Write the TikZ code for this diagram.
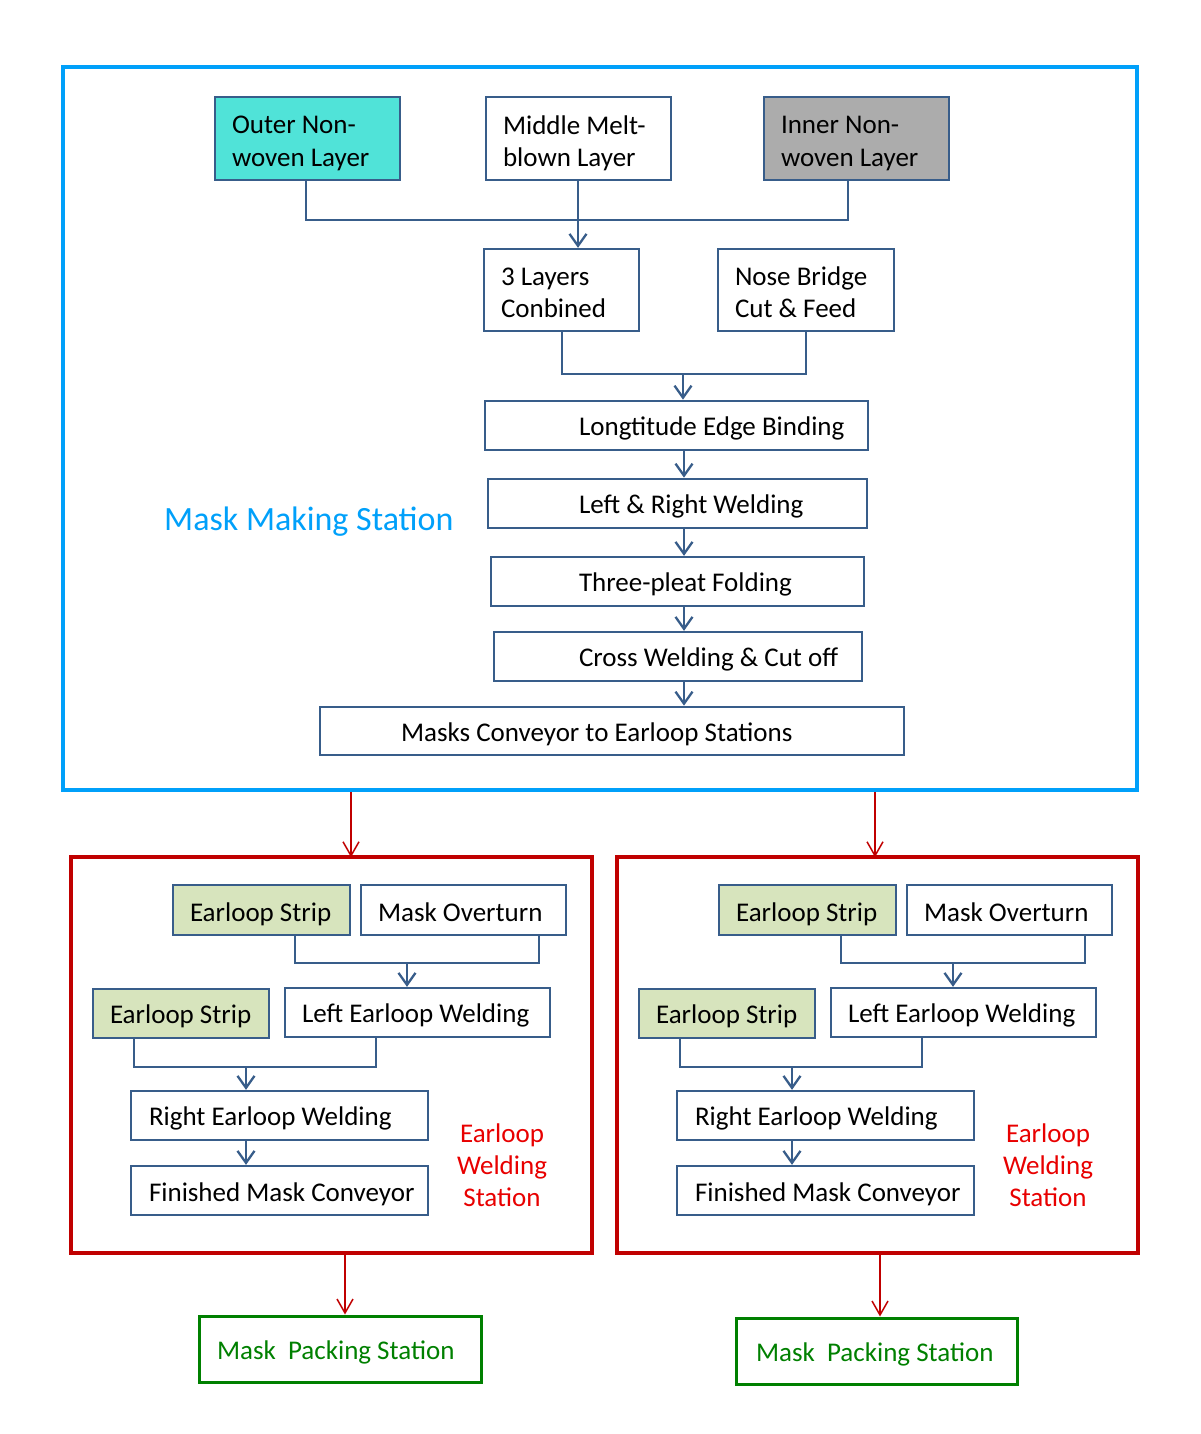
\documentclass[tikz,border=0pt]{standalone}
\usepackage{fontspec}
\setmainfont{Carlito}
\usetikzlibrary{arrows.meta}
\definecolor{boxblue}{RGB}{56,93,138}
\definecolor{frameblue}{RGB}{0,160,250}
\definecolor{framered}{RGB}{192,0,0}
\definecolor{labred}{RGB}{232,0,0}
\definecolor{packgreen}{RGB}{0,128,0}
\definecolor{turq}{RGB}{80,227,216}
\definecolor{grayfill}{RGB}{172,172,172}
\definecolor{stripgreen}{RGB}{215,228,189}
\newcommand\bt[4][6]{\parbox{#2pt}{\vspace*{#1pt}\raggedright\leftskip=#3pt\relax #4}}
\tikzset{
  stepbox/.style={draw=boxblue, line width=2.3pt, inner sep=0pt, fill=white,
    font=\fontsize{27}{32.5}\selectfont, text=black},
  arr/.style={draw=boxblue, line width=2.3pt, -{Straight Barb[length=12pt,width=17pt]}},
  bus/.style={draw=boxblue, line width=2.3pt},
  redarr/.style={draw=framered, line width=1.5pt, -{Straight Barb[length=14pt,width=16pt]}},
  redframe/.style={draw=framered, line width=3.5pt, inner sep=0pt},
  packbox/.style={draw=packgreen, line width=3pt, inner sep=0pt, text=packgreen,
    font=\fontsize{27}{32.5}\selectfont},
}
\begin{document}
\begin{tikzpicture}[x=1pt,y=-1pt]
\useasboundingbox (0,0) rectangle (1200,1434);
% Mask making station frame
\node[draw=frameblue, line width=4.5pt, minimum width=1074pt, minimum height=723pt, inner sep=0pt] (mms) at (600,428.5) {};
\node[anchor=west, inner sep=0pt, text=frameblue, font=\fontsize{34}{40}\selectfont] (mmslab) at (164,522) {Mask Making Station};

\node[stepbox, fill=turq, minimum height=83pt] (outer) at (307.5,138.5) {\bt[10]{185}{17}{Outer Non-\\woven Layer}};
\node[stepbox, minimum height=83pt] (middle) at (578.5,138.5) {\bt[10]{185}{17}{Middle Melt-\\blown Layer}};
\node[stepbox, fill=grayfill, minimum height=83pt] (inner) at (856.5,138.5) {\bt[10]{185}{17}{Inner Non-\\woven Layer}};
\node[stepbox, minimum height=82pt] (three) at (561.5,290) {\bt[6]{155}{17}{3 Layers\\Conbined}};
\node[stepbox, minimum height=82pt] (nose) at (806,290) {\bt[4]{176}{17}{Nose Bridge\\Cut \& Feed}};
\node[stepbox, minimum height=49pt, line width=2.7pt] (leb) at (676.5,425.5) {\bt{383}{94}{Longtitude Edge Binding}};
\node[stepbox, minimum height=49pt, line width=2.7pt] (lrw) at (677.5,503.5) {\bt{379}{91}{Left \& Right Welding}};
\node[stepbox, minimum height=49pt] (tpf) at (677.5,581.5) {\bt{373}{88}{Three-pleat Folding}};
\node[stepbox, minimum height=49pt] (cwc) at (678,656.5) {\bt{368}{85}{Cross Welding \& Cut off}};
\node[stepbox, minimum height=48pt, line width=2.7pt] (mce) at (612,731) {\bt{584}{81}{Masks Conveyor to Earloop Stations}};

% junction 1
\coordinate (j1a) at (306,220);
\coordinate (j1b) at (848,220);
\coordinate (j1m) at (578,220);
\draw[bus] (outer.south -| j1a) -- (j1a) -- (j1b) -- (inner.south -| j1b);
\draw[arr] (middle.south -| j1m) -- (three.north -| j1m);
% junction 2
\coordinate (j2a) at (562,374);
\coordinate (j2b) at (806,374);
\coordinate (j2m) at (683,374);
\draw[bus] (three.south -| j2a) -- (j2a) -- (j2b) -- (nose.south -| j2b);
\draw[arr] (j2m) -- (leb.north -| j2m);
% vertical chain
\coordinate (ax) at (684,0);
\draw[arr] (leb.south -| ax) -- (lrw.north -| ax);
\draw[arr] (lrw.south -| ax) -- (tpf.north -| ax);
\draw[arr] (tpf.south -| ax) -- (cwc.north -| ax);
\draw[arr] (cwc.south -| ax) -- (mce.north -| ax);

% earloop stations
\foreach \s/\dx in {L/0,R/546}{
\begin{scope}[xshift=\dx pt]
\node[redframe, minimum width=521pt, minimum height=396pt] (ew\s) at (331.5,1055) {};
\node[stepbox, fill=stripgreen, minimum height=50pt] (esa\s) at (261.5,910) {\bt[8]{177}{17}{Earloop Strip}};
\node[stepbox, minimum height=50pt] (mo\s) at (463.5,910) {\bt[4]{205}{17}{Mask Overturn}};
\node[stepbox, fill=stripgreen, minimum height=49pt] (esb\s) at (181,1013.5) {\bt{176}{17}{Earloop Strip}};
\node[stepbox, minimum height=49pt] (lew\s) at (417.5,1012.5) {\bt{265}{17}{Left Earloop Welding}};
\node[stepbox, minimum height=49pt] (rew\s) at (279.5,1115.5) {\bt{297}{18}{Right Earloop Welding}};
\node[stepbox, minimum height=49pt] (fmc\s) at (279.5,1190.5) {\bt[8]{297}{18}{Finished Mask Conveyor}};
\node[align=center, inner sep=0pt, text=labred, font=\fontsize{27}{32}\selectfont] (lab\s) at (502,1165) {Earloop\\Welding\\Station};
\coordinate (ka\s) at (295,963);
\coordinate (kb\s) at (539,963);
\coordinate (km\s) at (407,963);
\draw[bus] (esa\s.south -| ka\s) -- (ka\s) -- (kb\s) -- (mo\s.south -| kb\s);
\draw[arr] (km\s) -- (lew\s.north -| km\s);
\coordinate (la\s) at (134,1067);
\coordinate (lb\s) at (376,1067);
\coordinate (lm\s) at (246,1067);
\draw[bus] (esb\s.south -| la\s) -- (la\s) -- (lb\s) -- (lew\s.south -| lb\s);
\draw[arr] (lm\s) -- (rew\s.north -| lm\s);
\draw[arr] (rew\s.south -| lm\s) -- (fmc\s.north -| lm\s);
\end{scope}
}
\coordinate (rL) at (351,0);
\coordinate (rR) at (875,0);
\draw[redarr] (mms.south -| rL) -- ([yshift=-2pt]ewL.north -| rL);
\draw[redarr] (mms.south -| rR) -- ([yshift=-2pt]ewR.north -| rR);

% packing stations
\node[packbox, minimum height=66pt] (packL) at (340,1349) {\bt{282}{18}{Mask\ \ Packing Station}};
\node[packbox, minimum height=66pt] (packR) at (876.5,1351) {\bt{281}{20}{Mask\ \ Packing Station}};
\coordinate (pL) at (345,0);
\coordinate (pR) at (880,0);
\draw[redarr] (ewL.south -| pL) -- (packL.north -| pL);
\draw[redarr] (ewR.south -| pR) -- (packR.north -| pR);
\end{tikzpicture}
\end{document}
